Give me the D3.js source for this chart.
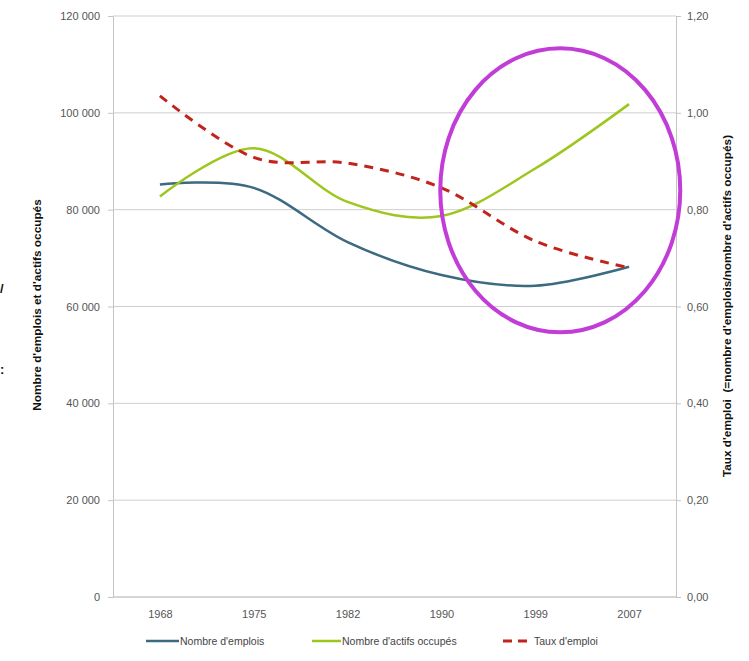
<!DOCTYPE html>
<html lang="fr">
<head>
<meta charset="utf-8">
<script src="https://cdn.jsdelivr.net/npm/d3@7/dist/d3.min.js"></script>
<style>
  html, body { margin: 0; padding: 0; background: #fff; }
  svg { display: block; font-family: "Liberation Sans", Arial, Helvetica, sans-serif; }
</style>
</head>
<body>
<svg id="chart" width="749" height="661"></svg>
<script>
// Recensements : emplois, actifs occupés et taux d'emploi
const years = ["1968", "1975", "1982", "1990", "1999", "2007"];
const emplois = [85200, 84500, 73300, 66500, 64300, 68200];
const actifs = [82700, 92700, 81600, 78700, 88500, 101800];
const tauxEmploi = [1.035, 0.908, 0.896, 0.845, 0.735, 0.680];

const leftTicks = [0, 20000, 40000, 60000, 80000, 100000, 120000];
const rightTicks = [0, 0.2, 0.4, 0.6, 0.8, 1.0, 1.2];

const seriesNames = ["Nombre d'emplois", "Nombre d'actifs occupés", "Taux d'emploi"];
const colors = { emplois: "#3c6a80", actifs: "#9dc61e", taux: "#c1241c" };

const svg = d3.select("#chart");
const plot = { left: 113, right: 676, top: 16, bottom: 597 };

const x = d3.scalePoint().domain(years).range([plot.left, plot.right]).padding(0.5);
const yL = d3.scaleLinear().domain([0, 120000]).range([plot.bottom, plot.top]);
const yR = d3.scaleLinear().domain([0, 1.2]).range([plot.bottom, plot.top]);

const fmtL = v => d3.format(",")(v).replace(/,/g, " ");
const fmtR = v => d3.format(".2f")(v).replace(".", ",");

// Horizontal gridlines
svg.append("g")
  .selectAll("line")
  .data(leftTicks)
  .join("line")
  .attr("x1", plot.left).attr("x2", plot.right)
  .attr("y1", d => yL(d)).attr("y2", d => yL(d))
  .attr("stroke", "#cfcfcf").attr("stroke-width", 1);

// Left axis
const axL = svg.append("g")
  .attr("transform", `translate(${plot.left},0)`)
  .call(d3.axisLeft(yL).tickValues(leftTicks).tickFormat(fmtL).tickSize(5).tickPadding(8));
// Right axis
const axR = svg.append("g")
  .attr("transform", `translate(${plot.right},0)`)
  .call(d3.axisRight(yR).tickValues(rightTicks).tickFormat(fmtR).tickSize(5).tickPadding(6));
[axL, axR].forEach(ax => {
  ax.select(".domain").attr("stroke", "#c4c4c4");
  ax.selectAll(".tick line").attr("stroke", "#c4c4c4");
  ax.selectAll(".tick text").attr("fill", "#555").attr("font-size", 11)
    .attr("font-family", "Liberation Sans, Arial, sans-serif");
});

// Bottom axis
const axB = svg.append("g")
  .attr("transform", `translate(0,${plot.bottom})`)
  .call(d3.axisBottom(x).tickSize(0).tickPadding(13));
axB.select(".domain").attr("stroke", "#c4c4c4").attr("d", `M${plot.left},0H${plot.right}`);
axB.selectAll(".tick text").attr("fill", "#555").attr("font-size", 11)
  .attr("font-family", "Liberation Sans, Arial, sans-serif");

// Axis titles
svg.append("text")
  .attr("transform", "translate(41,305) rotate(-90)")
  .attr("text-anchor", "middle")
  .attr("font-size", 11.8).attr("font-weight", "bold").attr("fill", "#111")
  .text("Nombre d'emplois et d'actifs occupés");
svg.append("text")
  .attr("transform", "translate(731,306) rotate(-90)")
  .attr("text-anchor", "middle")
  .attr("font-size", 11.8).attr("font-weight", "bold").attr("fill", "#111")
  .attr("xml:space", "preserve")
  .text("Taux d'emploi  (=nombre d'emplois/nombre d'actifs occupés)");

// Series lines (smoothed)
const curve = d3.curveCardinal.tension(0);
const lineL = d3.line().x((d, i) => x(years[i])).y(d => yL(d)).curve(curve);
const lineR = d3.line().x((d, i) => x(years[i])).y(d => yR(d)).curve(curve);

svg.append("path").attr("d", lineL(emplois))
  .attr("fill", "none").attr("stroke", colors.emplois).attr("stroke-width", 2.5);
svg.append("path").attr("d", lineL(actifs))
  .attr("fill", "none").attr("stroke", colors.actifs).attr("stroke-width", 2.5);
svg.append("path").attr("d", lineR(tauxEmploi))
  .attr("fill", "none").attr("stroke", colors.taux).attr("stroke-width", 3)
  .attr("stroke-dasharray", "9,7");

// Highlight ellipse around the recent period
svg.append("ellipse")
  .attr("cx", (x("1990") + x("2007")) / 2 + 25)
  .attr("cy", yL(84000))
  .attr("rx", 120).attr("ry", 142)
  .attr("fill", "none").attr("stroke", "#c23cd8").attr("stroke-width", 4);

// Legend
const legend = [
  { name: seriesNames[0], color: colors.emplois, dash: null, x0: 146, x1: 179, tx: 180 },
  { name: seriesNames[1], color: colors.actifs, dash: null, x0: 312, x1: 341, tx: 342 },
  { name: seriesNames[2], color: colors.taux, dash: "9,6", x0: 503, x1: 528, tx: 534 }
];
const lg = svg.append("g");
legend.forEach(l => {
  lg.append("line").attr("x1", l.x0).attr("x2", l.x1).attr("y1", 641).attr("y2", 641)
    .attr("stroke", l.color).attr("stroke-width", l.dash ? 3 : 2.5)
    .attr("stroke-dasharray", l.dash);
  lg.append("text").attr("x", l.tx).attr("y", 645)
    .attr("font-size", 10.5).attr("fill", "#444").text(l.name);
});

// Small marks at the left edge
svg.append("text").attr("x", 0).attr("y", 293).attr("font-size", 13)
  .attr("font-weight", "bold").attr("fill", "#111").text("/");
svg.append("text").attr("x", 0).attr("y", 374).attr("font-size", 13)
  .attr("font-weight", "bold").attr("fill", "#111").text(":");
</script>
</body>
</html>
